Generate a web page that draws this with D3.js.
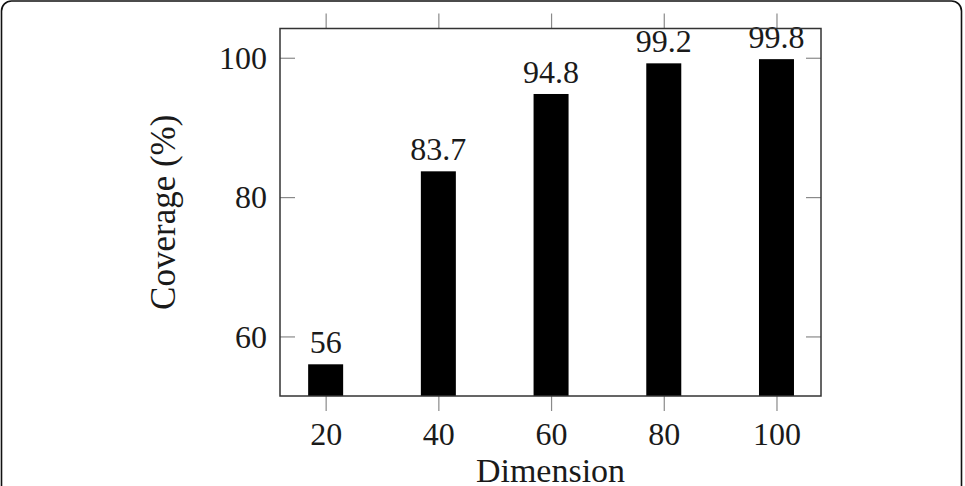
<!DOCTYPE html>
<html>
<head>
<meta charset="utf-8">
<script src="https://cdn.jsdelivr.net/npm/d3@7"></script>
<style>
  html, body { margin: 0; padding: 0; background: #fff; }
  svg { display: block; }
  text { font-family: "Liberation Serif", "Times New Roman", serif; fill: #1a1a1a; }
</style>
</head>
<body>
<script>
// Chart data
let dimensions = [20, 40, 60, 80, 100];
let coverage = [56, 83.7, 94.8, 99.2, 99.8];
let coverageLabels = ["56", "83.7", "94.8", "99.2", "99.8"];
let yTicks = [60, 80, 100];

let width = 965;
let height = 486;

let plotLeft = 280, plotRight = 821, plotTop = 28.5, plotBottom = 396;

let svg = d3
  .select("body")
  .append("svg")
  .attr("width", width)
  .attr("height", height);

// Outer rounded border
svg
  .append("rect")
  .attr("x", 1.5)
  .attr("y", 1)
  .attr("width", 960)
  .attr("height", 500)
  .attr("rx", 10)
  .attr("fill", "none")
  .attr("stroke", "#111")
  .attr("stroke-width", 1.6);

// Scales
let xScale = d3.scaleLinear().domain([11.9, 107.9]).range([plotLeft, plotRight]);
let yScale = d3.scaleLinear().domain([51.45, 104.2]).range([plotBottom, plotTop]);

let barWidth = 35;

// Bars
svg
  .selectAll(".bar")
  .data(dimensions)
  .enter()
  .append("rect")
  .attr("class", "bar")
  .attr("x", (d) => xScale(d) - barWidth / 2)
  .attr("y", (d, i) => yScale(coverage[i]))
  .attr("width", barWidth)
  .attr("height", (d, i) => plotBottom - yScale(coverage[i]))
  .attr("fill", "#000");

// Bar value labels
svg
  .selectAll(".bar-label")
  .data(dimensions)
  .enter()
  .append("text")
  .attr("class", "bar-label")
  .attr("x", (d) => xScale(d))
  .attr("y", (d, i) => yScale(coverage[i]) - 11)
  .attr("text-anchor", "middle")
  .style("font-size", "32px")
  .text((d, i) => coverageLabels[i]);

// Axes
let styleAxis = (g) => {
  g.select(".domain").remove();
  g.selectAll(".tick line").attr("stroke", "#8a8a8a").attr("stroke-width", 1.2);
  g.selectAll(".tick text")
    .style("font-size", "32px")
    .style("font-family", "Liberation Serif, serif")
    .attr("fill", "#1a1a1a");
};

svg
  .append("g")
  .attr("transform", "translate(0," + plotBottom + ")")
  .call(d3.axisBottom(xScale).tickValues(dimensions).tickSize(15).tickFormat(d3.format("d")))
  .call(styleAxis)
  .call((g) => g.selectAll(".tick text").attr("y", 49).attr("dy", 0));

svg
  .append("g")
  .attr("transform", "translate(0," + plotTop + ")")
  .call(d3.axisTop(xScale).tickValues(dimensions).tickSize(15).tickFormat(""))
  .call(styleAxis);

svg
  .append("g")
  .attr("transform", "translate(" + plotLeft + ",0)")
  .call(d3.axisLeft(yScale).tickValues(yTicks).tickSize(-15).tickPadding(13).tickFormat(d3.format("d")))
  .call(styleAxis)
  .call((g) => g.selectAll(".tick text").attr("dy", "0.34em"));

svg
  .append("g")
  .attr("transform", "translate(" + plotRight + ",0)")
  .call(d3.axisRight(yScale).tickValues(yTicks).tickSize(-15).tickFormat(""))
  .call(styleAxis);

// Frame
svg
  .append("rect")
  .attr("x", plotLeft)
  .attr("y", plotTop)
  .attr("width", plotRight - plotLeft)
  .attr("height", plotBottom - plotTop)
  .attr("fill", "none")
  .attr("stroke", "#333")
  .attr("stroke-width", 1.5);

// Axis titles
svg
  .append("text")
  .attr("x", (plotLeft + plotRight) / 2)
  .attr("y", 482)
  .attr("text-anchor", "middle")
  .style("font-size", "34px")
  .text("Dimension");

svg
  .append("text")
  .attr("transform", "translate(175," + (plotTop + plotBottom) / 2 + ") rotate(-90)")
  .attr("text-anchor", "middle")
  .style("font-size", "35px")
  .text("Coverage (%)");
</script>
</body>
</html>
